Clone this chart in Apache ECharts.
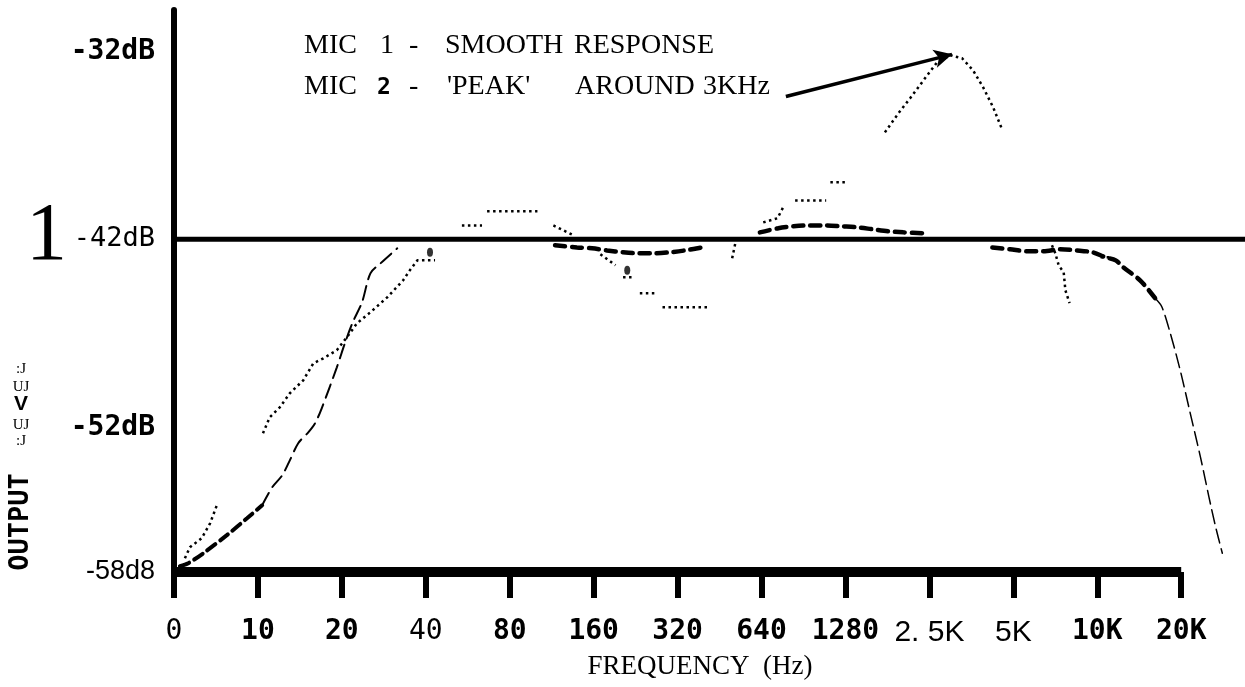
<!DOCTYPE html>
<html>
<head>
<meta charset="utf-8">
<script src="https://cdn.jsdelivr.net/npm/echarts@6/dist/echarts.min.js"></script>
<style>
  html, body { margin: 0; padding: 0; background: #fff; }
  #main { width: 1245px; height: 687px; }
</style>
</head>
<body>
<div id="main"></div>
<script>
// octave steps along the bottom axis (value axis, one unit per label)
const freqLabels = ["0", "10", "20", "40", "80", "160", "320", "640", "1280", "2. 5K", "5K", "10K", "20K"];
const freqStyle = ["m", "b", "b", "m", "b", "b", "b", "b", "b", "s", "s", "b", "b"];
const freqTicks = freqLabels.map(function (_, i) { return i; });
const freqEnd = 12.76; // plot runs a bit past 20K

// dB scale, bottom tick sits at the axis line
const dbMin = -59.7;
const dbMax = -29.8;
const dbTicks = [dbMin, -52, -42, -32];
const dbTickLabels = ["-58d8", "-52dB", "-42dB", "-32dB"];
const dbTickStyle = ["s", "b", "m", "b"];

const refLevel = -42;

// MIC 1 - smooth response (dashed)
const mic1LowHeavy = [[0.07, -59.39], [0.17, -59.23], [0.35, -58.7], [0.63, -57.74], [0.87, -56.84], [1.05, -56.15]];
const mic1LowThin = [[1.05, -56.15], [1.17, -55.19], [1.29, -54.55], [1.38, -53.76], [1.48, -52.85], [1.6, -52.27],
  [1.68, -51.79], [1.76, -50.99], [1.94, -48.81], [2.04, -47.48], [2.13, -46.41], [2.24, -45.35], [2.34, -43.81],
  [2.46, -43.28], [2.66, -42.48]];
const mic1Dip = [[4.54, -42.32], [4.8, -42.43], [4.98, -42.48], [5.16, -42.59], [5.35, -42.69], [5.53, -42.74],
  [5.73, -42.74], [5.91, -42.69], [6.09, -42.59], [6.29, -42.43], [6.35, -42.37]];
const mic1Rise = [[6.98, -41.63], [7.2, -41.41], [7.38, -41.31], [7.56, -41.26], [7.76, -41.26], [7.96, -41.31],
  [8.14, -41.36], [8.33, -41.47], [8.51, -41.57], [8.69, -41.63], [8.95, -41.68]];
const mic1Top = [[9.75, -42.43], [9.96, -42.53], [10.17, -42.64], [10.36, -42.64], [10.56, -42.53], [10.76, -42.59],
  [10.94, -42.69], [11.1, -42.96], [11.22, -43.12], [11.31, -43.49], [11.51, -44.18], [11.69, -45.14]];
const mic1Roll = [[11.69, -45.14], [11.77, -45.6], [11.87, -47.0], [11.99, -49.0], [12.11, -51.3], [12.23, -53.6],
  [12.33, -55.7], [12.41, -57.3], [12.49, -58.7]];

// MIC 2 - 'peak' around 3KHz (dotted)
const mic2Low = [[0.13, -58.97], [0.19, -58.38], [0.33, -57.9], [0.43, -57.11], [0.52, -56.04]];
const mic2Rise = [[1.06, -52.32], [1.14, -51.47], [1.26, -50.94], [1.38, -50.19], [1.54, -49.5], [1.66, -48.6],
  [1.78, -48.33], [1.94, -47.9], [2.06, -47.21], [2.18, -46.47], [2.34, -45.88], [2.54, -45.09], [2.73, -44.18],
  [2.81, -43.65], [2.9, -43.12], [3.11, -43.12]];
const mic2Steps = [
  [[3.43, -41.26], [3.67, -41.26]],
  [[3.73, -40.51], [4.33, -40.51]],
  [[4.52, -41.26], [4.76, -41.79]],
  [[5.08, -42.8], [5.26, -43.38]],
  [[5.35, -44.02], [5.49, -44.02]],
  [[5.55, -44.87], [5.76, -44.87]],
  [[5.82, -45.62], [6.35, -45.62]],
  [[6.65, -43.01], [6.69, -42.16]],
  [[7.02, -41.1], [7.19, -40.88], [7.27, -40.19]],
  [[7.4, -39.93], [7.77, -39.93]],
  [[7.82, -38.97], [8.03, -38.97]]
];
const mic2Peak = [[8.47, -36.31], [8.63, -35.3], [8.77, -34.5], [8.93, -33.54], [9.09, -32.59], [9.25, -32.21],
  [9.39, -32.37], [9.52, -33.01], [9.64, -33.91], [9.76, -34.98], [9.87, -36.2]];
const mic2Drop = [[10.46, -42.32], [10.5, -42.74], [10.54, -43.38], [10.6, -43.76], [10.62, -44.71], [10.67, -45.4]];
const mic2Tail = [[11.04, -42.96], [11.16, -42.96]];
const mic2Blobs = [[3.05, -42.69], [5.4, -43.65]];

// arrow from the note to the peak
const arrowFrom = [7.29, -34.4];
const arrowTo = [9.27, -32.16];

var chartDom = document.getElementById("main");
var myChart = echarts.init(chartDom);

function dashed(data, width, dash) {
  return {
    name: "MIC 1",
    type: "line",
    data: data,
    symbol: "none",
    smooth: 0.3,
    lineStyle: { color: "#000", width: width, type: dash, cap: "round" },
    z: 3,
  };
}

function dotted(data) {
  return {
    name: "MIC 2",
    type: "line",
    data: data,
    symbol: "none",
    lineStyle: { color: "#000", width: 2.5, type: [2.5, 3.5], cap: "butt" },
    z: 3,
  };
}

var serif = "'Liberation Serif', 'DejaVu Serif', serif";
var mono = "'DejaVu Sans Mono', monospace";
var sans = "'Liberation Sans', Arial, sans-serif";

var series = [
  {
    name: "ref",
    type: "line",
    data: [[0, refLevel], [freqEnd, refLevel]],
    symbol: "none",
    lineStyle: { color: "#000", width: 5 },
    z: 2,
    markLine: {
      silent: true,
      symbol: ["none", "arrow"],
      symbolSize: [14, 18],
      label: { show: false },
      lineStyle: { color: "#000", width: 3.5, type: "solid" },
      data: [[{ coord: arrowFrom }, { coord: arrowTo }]],
    },
  },
  {
    // thick bottom axis bar, stops at the 20K tick
    name: "base",
    type: "line",
    data: [[0, dbMin], [12, dbMin]],
    symbol: "none",
    lineStyle: { color: "#000", width: 10 },
    z: 6,
  },
  dashed(mic1LowHeavy, 4, [10, 6]),
  dashed(mic1LowThin, 2, [14, 7]),
  dashed(mic1Dip, 4.5, [10, 7]),
  dashed(mic1Rise, 4.5, [10, 7]),
  dashed(mic1Top, 4.5, [10, 7]),
  dashed(mic1Roll, 1.5, [14, 6]),
  dotted(mic2Low),
  dotted(mic2Rise),
  dotted(mic2Peak),
  dotted(mic2Drop),
  dotted(mic2Tail),
  {
    name: "MIC 2",
    type: "scatter",
    data: mic2Blobs,
    symbol: "circle",
    symbolSize: [6, 9],
    itemStyle: { color: "#000" },
    z: 4,
  },
];
mic2Steps.forEach(function (piece) {
  series.push(dotted(piece));
});

// annotation words: [centre y, text, left edge, font]
const noteWords = [
  [46, "MIC", 304], [46, "1", 380], [46, "-", 409], [46, "SMOOTH", 445], [46, "RESPONSE", 574],
  [87, "MIC", 304], [88, "2", 377, "bold 23px " + "'DejaVu Sans Mono', monospace"], [87, "-", 409],
  [87, "'PEAK'", 447], [87, "AROUND", 575], [87, "3KHz", 703],
];

var graphic = noteWords.map(function (w) {
  return {
    type: "text",
    x: w[2],
    y: w[0],
    silent: true,
    style: {
      text: w[1],
      font: w[3] || "28px " + serif,
      fill: "#000",
      verticalAlign: "middle",
    },
  };
});
graphic.push(
  {
    type: "text", left: 26, top: 196, silent: true,
    style: { text: "1", font: "82px " + serif, fill: "#000" },
  },
  {
    type: "text", x: 21, y: 522, rotation: Math.PI / 2, silent: true,
    style: { text: "OUTPUT", font: "bold 27px " + mono, fill: "#000", align: "center", verticalAlign: "middle" },
  },
  { type: "text", x: 21, y: 369, silent: true, style: { text: ":J", font: "15px " + serif, fill: "#000", align: "center", verticalAlign: "middle" } },
  { type: "text", x: 21, y: 387, silent: true, style: { text: "UJ", font: "15px " + serif, fill: "#000", align: "center", verticalAlign: "middle" } },
  { type: "text", x: 21, y: 404, silent: true, style: { text: "V", font: "bold 21px " + sans, fill: "#000", align: "center", verticalAlign: "middle" } },
  { type: "text", x: 21, y: 425, silent: true, style: { text: "UJ", font: "15px " + serif, fill: "#000", align: "center", verticalAlign: "middle" } },
  { type: "text", x: 21, y: 441, silent: true, style: { text: ":J", font: "15px " + serif, fill: "#000", align: "center", verticalAlign: "middle" } },
  {
    type: "text", x: 700, y: 667, silent: true,
    style: { text: "FREQUENCY  (Hz)", font: "27px " + serif, fill: "#000", align: "center", verticalAlign: "middle" },
  }
);

var option = {
  animation: false,
  backgroundColor: "#fff",
  grid: { left: 174, right: 0, top: 10, bottom: 115, containLabel: false },
  xAxis: {
    type: "value",
    min: 0,
    max: freqEnd,
    splitLine: { show: false },
    axisLine: { show: false },
    axisTick: { show: true, customValues: freqTicks, length: 26, lineStyle: { color: "#000", width: 6 } },
    axisLabel: {
      margin: 46,
      color: "#000",
      customValues: freqTicks,
      formatter: function (v) {
        var k = Math.round(v);
        if (Math.abs(v - k) > 1e-6 || !freqLabels[k]) return "";
        return "{" + freqStyle[k] + "|" + freqLabels[k] + "}";
      },
      rich: {
        b: { fontFamily: mono, fontWeight: "bold", fontSize: 28, color: "#000" },
        m: { fontFamily: mono, fontSize: 28, color: "#000" },
        s: { fontFamily: sans, fontSize: 30, color: "#000" },
      },
    },
  },
  yAxis: {
    type: "value",
    min: dbMin,
    max: dbMax,
    splitLine: { show: false },
    axisLine: { show: true, lineStyle: { color: "#000", width: 6 } },
    axisTick: { show: false },
    axisLabel: {
      margin: 19,
      color: "#000",
      customValues: dbTicks,
      formatter: function (v) {
        var k = dbTicks.findIndex(function (t) { return Math.abs(t - v) < 0.05; });
        if (k < 0) return "";
        return "{" + dbTickStyle[k] + "|" + dbTickLabels[k] + "}";
      },
      rich: {
        b: { fontFamily: mono, fontWeight: "bold", fontSize: 28, color: "#000" },
        m: { fontFamily: mono, fontSize: 27, color: "#000" },
        s: { fontFamily: sans, fontSize: 27, color: "#000" },
      },
    },
  },
  graphic: graphic,
  series: series,
};

option && myChart.setOption(option);
</script>
</body>
</html>
